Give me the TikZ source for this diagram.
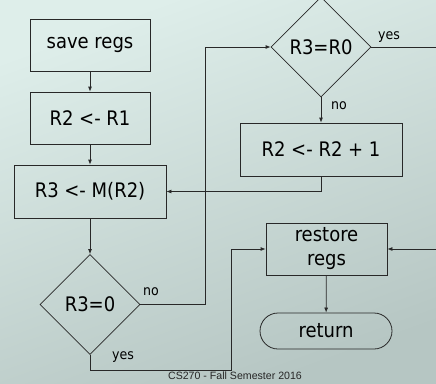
\documentclass[tikz,border=0pt]{standalone}
\usepackage{fontspec}
\setmainfont{DejaVu Sans Condensed}
\newfontfamily\footfont{Liberation Sans}
\usetikzlibrary{shapes.geometric,arrows.meta}
\definecolor{bgtop}{RGB}{222,238,234}
\definecolor{bgbot}{RGB}{182,198,195}
\definecolor{linegray}{RGB}{40,40,40}
\tikzset{
  box/.style={draw=linegray,rectangle,inner sep=0pt,font=\fontsize{20}{24}\selectfont},
  test/.style={draw=linegray,diamond,aspect=1,inner sep=0pt,minimum width=100pt,minimum height=100pt,font=\fontsize{20}{24}\selectfont},
  term/.style={draw=linegray,rectangle,rounded corners=18pt,inner sep=0pt,minimum width=132pt,minimum height=36pt,font=\fontsize{20}{24}\selectfont},
  arr/.style={draw=linegray,-{Latex[length=5pt,width=4pt]}},
  lbl/.style={font=\fontsize{14}{16}\selectfont,inner sep=0pt}
}
\begin{document}
\begin{tikzpicture}[x=1pt,y=-1pt,line width=0.8pt]

	% background
	\useasboundingbox (0,0) rectangle (436,383);
	\clip (0,0) rectangle (436,383);
	\shade[shading=axis,top color=bgtop,bottom color=bgbot,shading angle=20] (0,0) rectangle (436,383);

	% left column
	\node[box,minimum width=120pt,minimum height=52pt] (save) at (90,45) {save regs};
	\node[box,minimum width=120pt,minimum height=52pt] (r2r1) at (90,118) {R2 <- R1};
	\node[box,minimum width=152pt,minimum height=53pt] (load) at (90,191.5) {R3 <- M(R2)};
	\node[test] (iszero) at (90,304.5) {R3=0};

	% right column
	\node[test] (isend) at (321,47) {R3=R0};
	\node[box,minimum width=162pt,minimum height=53pt] (inc) at (321,149.5) {R2 <- R2 + 1};
	\node[box,minimum width=121pt,minimum height=52pt,align=center] (restore) at (326.5,249) {restore\\regs};
	\node[term] (ret) at (326,331) {return};

	% turning points
	\coordinate (noturn) at (205,47);
	\coordinate (yesturn) at (231,370);
	\coordinate (edgetop) at (442,47);
	\coordinate (edgebot) at (442,249);

	% straight arrows
	\draw[arr] (save) -- (r2r1);
	\draw[arr] (r2r1) -- (load);
	\draw[arr] (load) -- (iszero);
	\draw[arr] (isend) -- (inc);
	\draw[arr] (restore) -- (ret);

	% loops
	\draw[arr] (iszero.east) -| (noturn) -- (isend.west);
	\draw[arr] (inc.south) |- (load.east);
	\draw[arr] (iszero.south) |- (yesturn) |- (restore.west);
	\draw[arr] (isend.east) -- (edgetop) -- (edgebot) -- (restore.east);

	% branch labels
	\node[lbl] (nozero) at (151,292) {no};
	\node[lbl] (yeszero) at (123,357) {yes};
	\node[lbl] (noend) at (339,106) {no};
	\node[lbl] (yesend) at (389,37) {yes};

	% footer
	\node[font=\footfont\fontsize{10.6}{12}\selectfont,text=black!85,inner sep=0pt] (foot) at (235,375.5) {CS270 - Fall Semester 2016};

\end{tikzpicture}
\end{document}
